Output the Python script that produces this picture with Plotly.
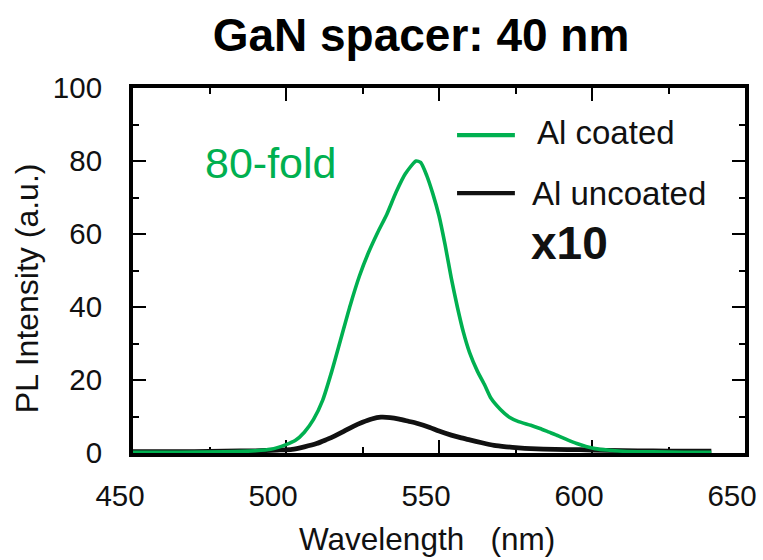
import plotly.graph_objects as go

# Photoluminescence spectra, GaN spacer 40 nm
wl_coated = [450, 465, 480, 490, 495, 500, 503, 506, 509, 512, 515, 518, 521, 524,
             527, 530, 533, 536, 539, 542.5, 544, 546, 548, 550, 552, 554, 556, 558,
             560, 562.5, 565, 567, 570, 573, 576, 580, 583, 586, 589, 592, 595, 598,
             601, 605, 610, 620, 630, 639]
pl_coated = [0.2, 0.2, 0.3, 0.6, 1.0, 2.3, 3.4, 5.7, 9.2, 14.5, 22.5, 31.5, 40.5, 48.5,
             55.0, 60.5, 65.5, 71.5, 76.5, 80.0, 79.6, 76.0, 71.0, 65.0, 57.0, 48.0, 40.0, 33.0,
             27.5, 22.5, 18.5, 15.0, 12.0, 9.8, 8.6, 7.6, 6.7, 5.7, 4.7, 3.6, 2.6, 1.8,
             1.2, 0.8, 0.5, 0.3, 0.2, 0.2]

# uncoated sample, multiplied by 10
wl_uncoated = [450, 460, 470, 480, 490, 497, 502, 506, 510, 513, 516, 519, 522, 525,
               528, 531, 534, 537, 540, 543, 547, 550, 554, 557, 560, 564, 568, 572,
               576, 580, 588, 596, 605, 615, 625, 635, 639]
pl_uncoated = [0.4, 0.4, 0.4, 0.5, 0.6, 0.8, 1.0, 1.7, 2.6, 3.6, 4.7, 6.0, 7.3, 8.4,
               9.3, 9.8, 9.7, 9.3, 8.7, 8.1, 7.0, 6.0, 4.9, 4.2, 3.6, 2.8, 2.1, 1.7,
               1.4, 1.2, 1.0, 0.9, 0.7, 0.6, 0.5, 0.5, 0.5]

x_ticks = [450, 500, 550, 600, 650]
y_ticks = [0, 20, 40, 60, 80, 100]

GREEN = "#00B050"
INK = "#111111"
FONT = "Liberation Sans, Arial, sans-serif"
NB = "\u00a0"

fig = go.Figure()
fig.add_trace(go.Scatter(
    x=wl_uncoated, y=pl_uncoated, mode="lines", name="Al uncoated",
    line=dict(color=INK, width=4.8, shape="spline", smoothing=0.6),
    showlegend=False,
))
fig.add_trace(go.Scatter(
    x=wl_coated, y=pl_coated, mode="lines", name="Al coated",
    line=dict(color=GREEN, width=3.6, shape="spline", smoothing=0.6),
    showlegend=False,
))

axis_common = dict(
    showline=True, linewidth=4, linecolor="black", mirror="ticks",
    ticks="inside", ticklen=13, tickwidth=1.8, tickcolor="black",
    showgrid=False, zeroline=False, layer="below traces", automargin=False,
    tickfont=dict(family=FONT, size=29.5, color=INK),
)

fig.update_xaxes(
    range=[450, 650], tickvals=x_ticks, ticktext=[str(v) for v in x_ticks],
    minor=dict(ticks="inside", ticklen=6, tickwidth=1.8, tickcolor="black", dtick=25,
               tick0=450, showgrid=False),
    ticklabelstandoff=14, ticklabelshift=-13,
    **axis_common,
)
fig.update_yaxes(
    range=[0, 100], tickvals=y_ticks, ticktext=[str(v) for v in y_ticks],
    minor=dict(ticks="inside", ticklen=6, tickwidth=1.8, tickcolor="black", dtick=10,
               tick0=0, showgrid=False),
    ticklabelstandoff=21,
    **axis_common,
)

# axis titles
fig.add_annotation(x=0.4804, y=-0.2356, xref="paper", yref="paper",
                   text="Wavelength" + NB * 3 + "(nm)", showarrow=False,
                   xanchor="center", yanchor="middle",
                   font=dict(family=FONT, size=31.5, color=INK))
fig.add_annotation(x=-0.1730, y=0.4520, xref="paper", yref="paper",
                   text="PL Intensity (a.u.)", showarrow=False, textangle=-90,
                   xanchor="center", yanchor="middle",
                   font=dict(family=FONT, size=32, color=INK))

# legend keys drawn inside the plot
legend_keys = [("Al coated", GREEN, 87.1, 87.9, 581.4), ("Al uncoated", INK, 71.2, 71.2, 579.8)]
for label, color, y_line, y_text, x_text in legend_keys:
    fig.add_shape(type="line", xref="x", yref="y", x0=555.9, x1=574.8, y0=y_line, y1=y_line,
                  line=dict(color=color, width=4.2))
    fig.add_annotation(x=x_text, y=y_text, xref="x", yref="y", text=label, showarrow=False,
                       xanchor="left", yanchor="middle",
                       font=dict(family=FONT, size=33, color=INK))

fig.add_annotation(x=579.4, y=57.5, xref="x", yref="y", text="<b>x10</b>", showarrow=False,
                   xanchor="left", yanchor="middle",
                   font=dict(family=FONT, size=46, color=INK))
fig.add_annotation(x=472.8, y=79.5, xref="x", yref="y", text="80-fold", showarrow=False,
                   xanchor="left", yanchor="middle",
                   font=dict(family=FONT, size=43, color=GREEN))

fig.update_layout(
    width=763, height=560,
    margin=dict(l=133, r=18, t=88, b=107, autoexpand=False),
    paper_bgcolor="white", plot_bgcolor="white",
    title=dict(text="<b>GaN spacer: 40 nm</b>", x=421 / 763, xanchor="center",
               y=1 - 35 / 560, yanchor="middle",
               font=dict(family=FONT, size=46, color="black")),
    showlegend=False,
)

fig.write_html("out.html")
